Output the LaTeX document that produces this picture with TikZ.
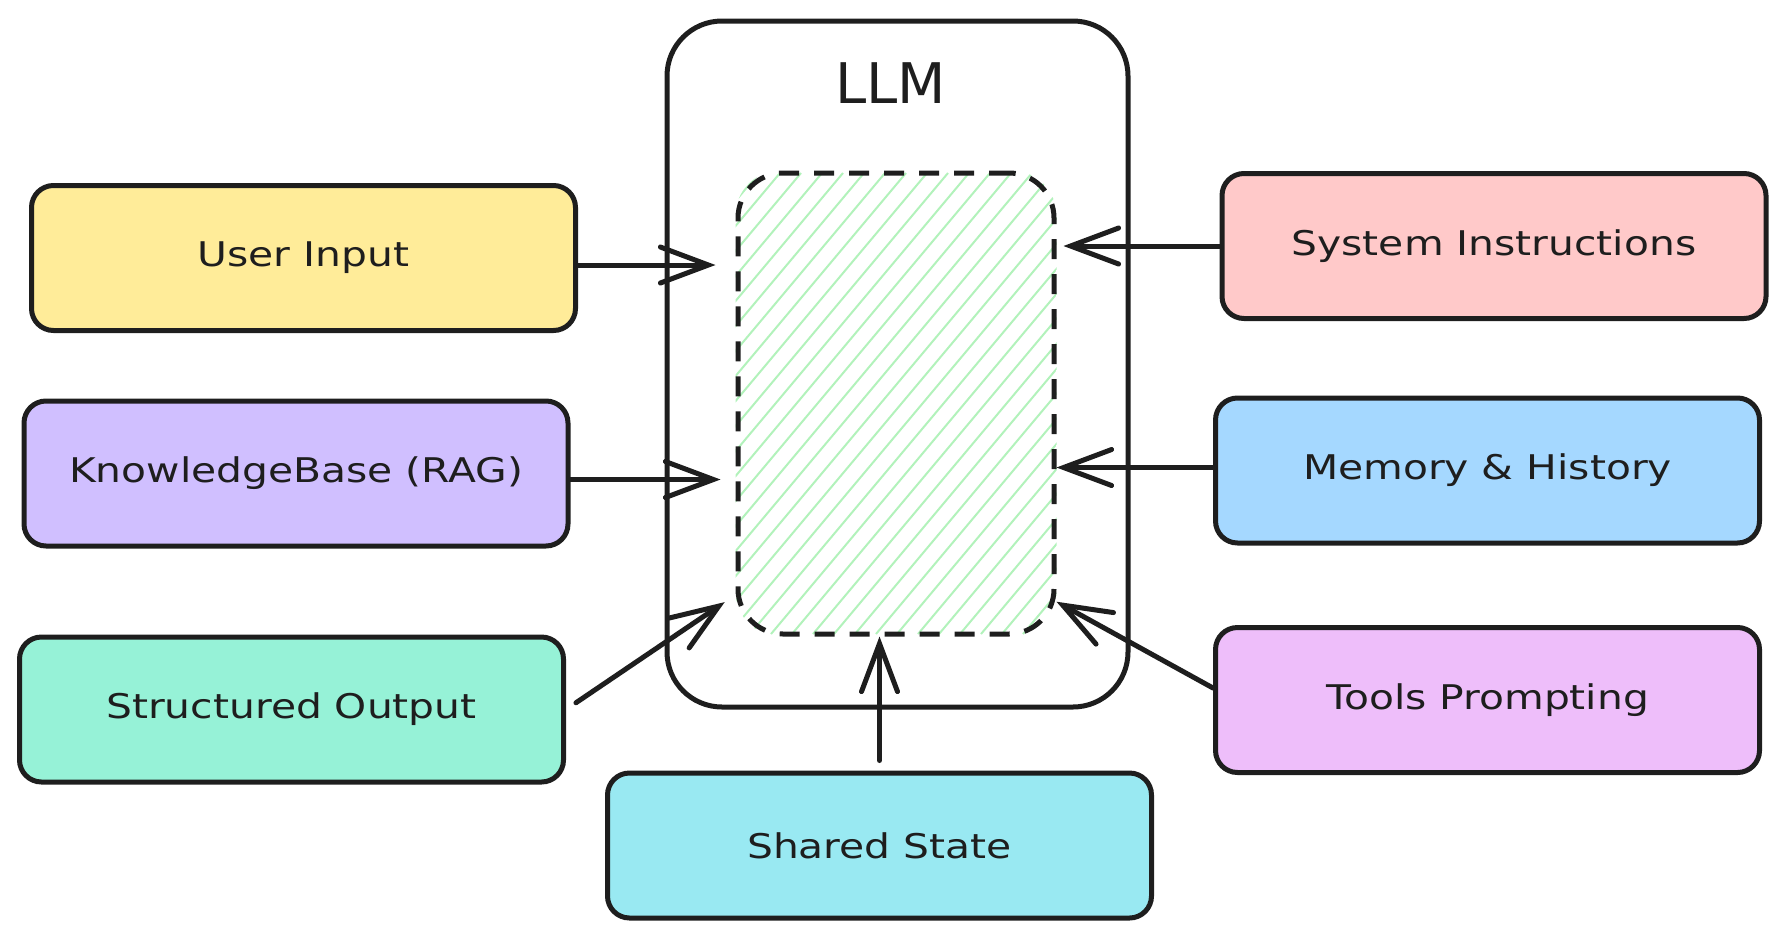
\documentclass[tikz,border=0pt]{standalone}
\usepackage{fontspec}
\setmainfont{DejaVu Sans}[FakeStretch=1.2]
\newfontfamily\titlefont{DejaVu Sans}
\usepackage{tikz}
\usetikzlibrary{arrows.meta,calc}
\definecolor{strokecolor}{HTML}{1E1E1E}
\definecolor{inputfill}{HTML}{FFEC99}
\definecolor{ragfill}{HTML}{D0BFFF}
\definecolor{outputfill}{HTML}{96F2D7}
\definecolor{statefill}{HTML}{99E9F2}
\definecolor{systemfill}{HTML}{FFC9C9}
\definecolor{memoryfill}{HTML}{A5D8FF}
\definecolor{toolsfill}{HTML}{EEBEFA}
\definecolor{hatchcolor}{HTML}{B2F2BB}
\tikzstyle{card} = [
    draw=strokecolor,
    line width=5pt,
    rectangle,
    rounded corners=22pt,
    minimum width=544pt,
    minimum height=145pt,
    text=strokecolor,
    font=\fontsize{34}{40}\selectfont
    ]
\tikzstyle{llmbox} = [
    draw=strokecolor,
    line width=5pt,
    rectangle,
    rounded corners=55pt,
    minimum width=461pt,
    minimum height=686pt
    ]
\tikzstyle{ctxbox} = [
    draw=strokecolor,
    line width=5pt,
    dash pattern=on 20pt off 15pt,
    rectangle,
    rounded corners=45pt,
    minimum width=316pt,
    minimum height=461pt
    ]
\tikzstyle{hatch} = [
    draw=hatchcolor,
    line width=2pt
    ]
\tikzstyle{feed} = [
    draw=strokecolor,
    line width=5pt,
    line cap=round,
    -{Straight Barb[length=48pt,width=36pt,line cap=round]}
    ]

\begin{document}
\begin{tikzpicture}[x=1pt,y=-1pt]
\useasboundingbox (0,0) rectangle (1786,938);

\node [llmbox] (llm) at (897.5,364) {};
\node [text=strokecolor, font=\titlefont\fontsize{56}{60}\selectfont] (llmtitle)
    at ([xshift=-7pt,yshift=-65pt]llm.north) {LLM};

% context window
\node [ctxbox, draw=none] (ctx) at (896,403.5) {};
\begin{scope}
\clip [rounded corners=45pt] (ctx.south west) rectangle (ctx.north east);
\foreach \x in {351,372,...,1054}
    \draw [hatch] (\x,634) -- ++(387,-461);
\end{scope}
\node [ctxbox] at (ctx.center) {};

\node [card, fill=inputfill] (input) at (303.5,258) {User Input};
\node [card, fill=ragfill] (rag) at (296,473.5) {KnowledgeBase (RAG)};
\node [card, fill=outputfill] (output) at (291.5,709.5) {Structured Output};
\node [card, fill=statefill] (state) at (879.5,845.5) {Shared State};
\node [card, fill=systemfill] (system) at (1494,246) {System Instructions};
\node [card, fill=memoryfill] (memory) at (1487.5,470.5) {Memory \& History};
\node [card, fill=toolsfill] (tools) at (1487.5,700) {Tools Prompting};

\draw [feed, shorten >=20pt] ([yshift=-7pt]input.east) -- ([yshift=-7pt]input.east -| ctx.west);
\draw [feed, shorten >=15pt] ([yshift=-6pt]rag.east) -- ([yshift=-6pt]rag.east -| ctx.west);
\draw [feed, shorten <=12pt, shorten >=13pt] (output.east) -- (ctx.230);
\draw [feed, shorten <=10pt] (state.north) -- (state.north |- ctx.south);
\draw [feed, shorten >=7pt] (system.west) -- (system.west -| ctx.east);
\draw [feed] ([yshift=3pt]memory.west) -- ([yshift=3pt]memory.west -| ctx.east);
\draw [feed] ([yshift=12pt]tools.west) -- (ctx.309);
\end{tikzpicture}
\end{document}
